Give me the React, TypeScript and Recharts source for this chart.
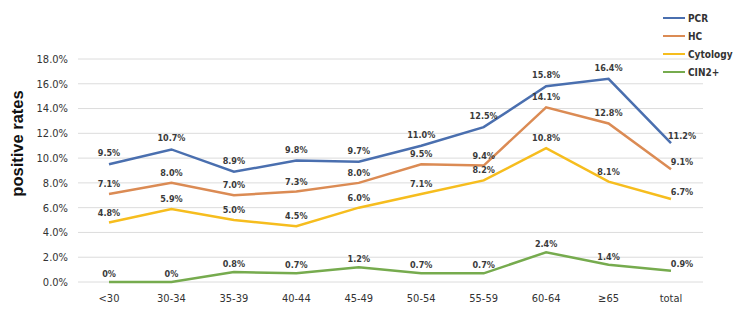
import { LineChart, Line, XAxis, YAxis, CartesianGrid, Label } from "recharts";

const categories = ["<30", "30-34", "35-39", "40-44", "45-49", "50-54", "55-59", "60-64", "≥65", "total"];
const pcr      = [9.5, 10.7, 8.9, 9.8, 9.7, 11.0, 12.5, 15.8, 16.4, 11.2];
const hc       = [7.1, 8.0, 7.0, 7.3, 8.0, 9.5, 9.4, 14.1, 12.8, 9.1];
const cytology = [4.8, 5.9, 5.0, 4.5, 6.0, 7.1, 8.2, 10.8, 8.1, 6.7];
const cin2     = [0, 0, 0.8, 0.7, 1.2, 0.7, 0.7, 2.4, 1.4, 0.9];
const yTicks   = [0, 2, 4, 6, 8, 10, 12, 14, 16, 18];

const SERIES = [
  { key: "PCR", color: "#4A6FAF", lift: 8 },
  { key: "HC", color: "#DB8B54", lift: 7 },
  { key: "Cytology", color: "#F6BD1E", lift: 7 },
  { key: "CIN2+", color: "#76AB4E", lift: 5 },
];

const data = categories.map((c, i) => ({
  name: c,
  PCR: pcr[i],
  HC: hc[i],
  Cytology: cytology[i],
  "CIN2+": cin2[i],
}));

const NARROW = '"DejaVu Sans Condensed", "Liberation Sans Narrow", Arial, sans-serif';

const fmt = (v: number) => (v === 0 ? "0%" : v.toFixed(1) + "%");

const makeLabel = (lift: number) => (props: any) => {
  const { x, y, value, index } = props;
  const last = index === categories.length - 1;
  return (
    <text
      key={`lbl-${index}`}
      x={last ? x + 11 : x}
      y={last ? y - 4 : y - lift}
      textAnchor="middle"
      fontFamily={NARROW}
      fontSize={9}
      fontWeight={700}
      fill="#3a3a3a"
    >
      {fmt(value)}
    </text>
  );
};

const renderTitle = (props: any) => {
  const { viewBox } = props;
  const cx = viewBox.x + 17;
  const cy = viewBox.y + viewBox.height / 2 - 27;
  return (
    <text
      x={cx}
      y={cy}
      transform={`rotate(-90, ${cx}, ${cy})`}
      textAnchor="middle"
      dominantBaseline="central"
      fontFamily="Arial, 'Liberation Sans', sans-serif"
      fontSize={16.5}
      fontWeight={700}
      fill="#111"
    >
      positive rates
    </text>
  );
};

export default function App() {
  return (
    <div style={{ position: "absolute", left: 0, top: 0, width: 733, height: 319, background: "#fff" }}>
      <LineChart
        width={733}
        height={319}
        data={data}
        margin={{ top: 59, right: 30, bottom: 7, left: 0 }}
      >
        <CartesianGrid vertical={false} stroke="#DCDCDC" strokeWidth={1} />
        <XAxis
          dataKey="name"
          height={30}
          axisLine={false}
          tickLine={false}
          tickSize={0}
          tickMargin={12}
          padding={{ left: 31, right: 32 }}
          interval={0}
          tick={{ fontFamily: NARROW, fontSize: 11, fill: "#333" }}
        />
        <YAxis
          domain={[0, 18]}
          ticks={yTicks}
          width={78}
          axisLine={false}
          tickLine={false}
          tickSize={0}
          tickMargin={10}
          tickFormatter={(v: number) => v.toFixed(1) + "%"}
          tick={{ fontFamily: NARROW, fontSize: 11, fill: "#333" }}
        >
          <Label content={renderTitle} />
        </YAxis>
        {SERIES.map((s) => (
          <Line
            key={s.key}
            dataKey={s.key}
            stroke={s.color}
            strokeWidth={2.5}
            dot={false}
            activeDot={false}
            isAnimationActive={false}
            label={makeLabel(s.lift)}
          />
        ))}
      </LineChart>
      <div style={{ position: "absolute", left: 663, top: 9, fontFamily: NARROW, fontSize: 10, fontWeight: 700, color: "#333", whiteSpace: "nowrap" }}>
        {SERIES.map((s) => (
          <div key={s.key} style={{ display: "flex", alignItems: "center", height: 18 }}>
            <span style={{ width: 22, height: 2.5, background: s.color, marginRight: 3 }} />
            <span>{s.key}</span>
          </div>
        ))}
      </div>
    </div>
  );
}
